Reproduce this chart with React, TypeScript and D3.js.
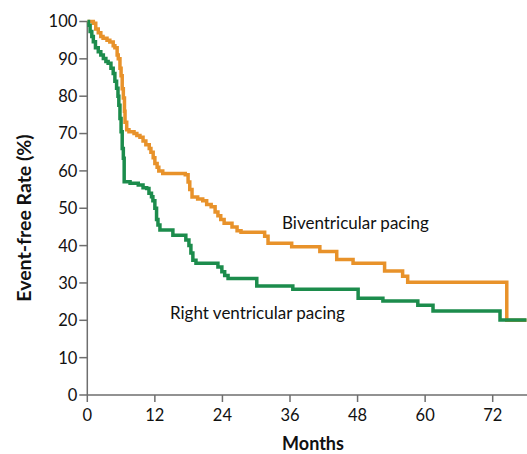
import React from "react";
import * as d3 from "d3";

const xTicks = [0, 12, 24, 36, 48, 60, 72];
const yTicks = [0, 10, 20, 30, 40, 50, 60, 70, 80, 90, 100];

const biMonths = [0, 1.07, 1.5, 1.95, 2.4, 2.8, 3.5, 4.0, 4.6, 4.9, 5.3, 5.5, 5.8, 6.0, 6.2, 6.4, 6.6, 6.7, 7.0, 7.4, 8.3, 8.8, 9.35, 9.9, 10.4, 11.0, 11.3, 11.7, 12.0, 12.4, 12.7, 13.4, 17.4, 17.9, 18.2, 18.6, 19.6, 20.5, 21.2, 22.0, 22.7, 23.2, 23.7, 24.3, 25.7, 26.6, 27.3, 31.5, 32.1, 36.3, 41.3, 44.3, 47.2, 52.8, 56.0, 56.9, 74.5, 78];
const biRates = [100, 99.5, 98, 97, 96, 95.5, 95, 94.5, 93.5, 93, 91, 90, 87.5, 85.5, 82, 79.5, 76, 73, 71, 70.5, 70, 69.5, 69, 68, 67, 66, 65, 63.5, 62, 61, 60, 59.3, 59, 57, 55, 53, 52.5, 52, 51, 50.4, 49, 48, 47, 46, 45, 44, 43.6, 42.5, 40.6, 39.7, 38.4, 36.3, 35.3, 33.2, 31.8, 30.2, 20, 20];

const rvMonths = [0, 0.2, 0.5, 0.8, 1.07, 1.45, 1.95, 2.4, 2.85, 3.3, 3.7, 4.2, 4.6, 4.9, 5.2, 5.45, 5.6, 5.8, 6.0, 6.2, 6.4, 6.55, 7.6, 9.05, 9.9, 10.55, 10.95, 11.4, 11.65, 12.0, 12.3, 12.55, 12.9, 15.2, 17.5, 18.05, 18.4, 18.75, 19.3, 23.2, 23.9, 24.4, 25.0, 30.1, 36.5, 48.1, 52.5, 58.7, 61.4, 73.3, 78];
const rvRates = [100, 99, 97.3, 96, 94.6, 93, 91.9, 91, 90.1, 89.3, 88.8, 87.5, 86.1, 84, 82.1, 80, 77.6, 74, 70.5, 66, 63.4, 57.1, 56.7, 56.2, 55.5, 55.3, 54, 53.1, 52, 50, 47, 45.5, 44.2, 42.8, 41.5, 40, 38, 36.1, 35.3, 34.3, 33, 32, 31.2, 29.2, 28.3, 25.9, 25.2, 24.0, 22.5, 20.1, 20.1];

const W = 527;
const H = 454;
const axisColor = "#6e6e6e";
const orange = "#E8922A";
const green = "#1C8C4C";
const font = "Lato, 'Open Sans', sans-serif";

export default function App() {
  const x = d3.scaleLinear().domain([0, 72]).range([87.3, 492.7]);
  const y = d3.scaleLinear().domain([0, 100]).range([395, 21.5]);
  const line = d3
    .line<[number, number]>()
    .x((d) => x(d[0]))
    .y((d) => y(d[1]))
    .curve(d3.curveStepAfter);
  const bi: [number, number][] = biMonths.map((m, i) => [m, biRates[i]]);
  const rv: [number, number][] = rvMonths.map((m, i) => [m, rvRates[i]]);
  const x0 = x(0);
  const y0 = y(0);
  return (
    <svg width={W} height={H} style={{ position: "absolute", left: 0, top: 0, background: "#fff" }}>
      <defs>
        <clipPath id="plotclip">
          <rect x={x0} y={0} width={W - x0} height={y0 + 1} />
        </clipPath>
      </defs>
      <line x1={x0} x2={W} y1={y0} y2={y0} stroke={axisColor} strokeWidth={1.5} />
      <line x1={x0} x2={x0} y1={y(100)} y2={y0} stroke={axisColor} strokeWidth={1.5} />
      {yTicks.map((t) => (
        <g key={"y" + t}>
          <line x1={x0 - 8} x2={x0} y1={y(t)} y2={y(t)} stroke={axisColor} strokeWidth={1.5} />
          <text x={x0 - 10} y={y(t)} dy="0.36em" textAnchor="end" fontFamily={font} fontSize={16.5} fill="#111">
            {t}
          </text>
        </g>
      ))}
      {xTicks.map((t) => (
        <g key={"x" + t}>
          <line x1={x(t)} x2={x(t)} y1={y0} y2={y0 + 7} stroke={axisColor} strokeWidth={1.5} />
          <text x={x(t)} y={420.5} textAnchor="middle" fontFamily={font} fontSize={16.5} fill="#111">
            {t}
          </text>
        </g>
      ))}
      <text x={313} y={450} textAnchor="middle" fontFamily={font} fontWeight={700} fontSize={18} fill="#111">
        Months
      </text>
      <text
        transform={`translate(31,218) rotate(-90)`}
        textAnchor="middle"
        fontFamily={font}
        fontWeight={700}
        fontSize={19.5}
        fill="#111"
      >
        Event-free Rate (%)
      </text>
      <g clipPath="url(#plotclip)">
        <path d={line(bi) || ""} fill="none" stroke={orange} strokeWidth={3.5} strokeLinejoin="miter" />
        <path d={line(rv) || ""} fill="none" stroke={green} strokeWidth={3.5} strokeLinejoin="miter" />
      </g>
      <text x={282} y={229} fontFamily={font} fontSize={17} fill="#111">
        Biventricular pacing
      </text>
      <text x={170} y={318.5} fontFamily={font} fontSize={17} fill="#111">
        Right ventricular pacing
      </text>
    </svg>
  );
}
